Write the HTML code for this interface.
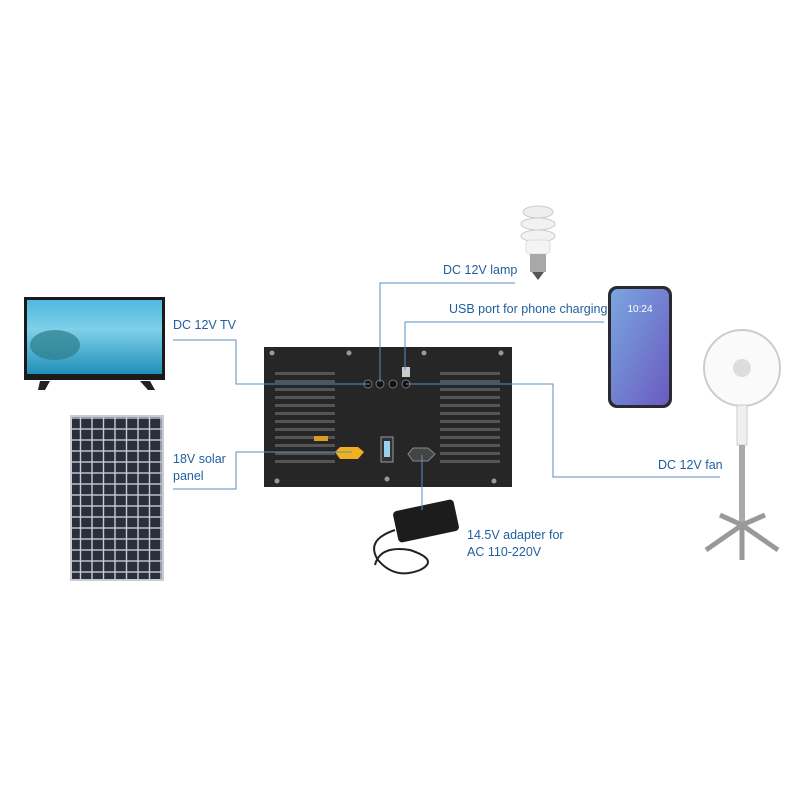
<!DOCTYPE html>
<html><head><style>
body{margin:0;width:800px;height:800px;background:#fff;overflow:hidden;position:relative;font-family:"Liberation Sans",sans-serif}
.t{position:absolute;color:#1f5f9e;font-size:12.5px;line-height:17px;white-space:nowrap}
</style></head><body>
<svg width="800" height="800" style="position:absolute;left:0;top:0">
<defs>
<linearGradient id="sea" x1="0" y1="0" x2="0" y2="1"><stop offset="0" stop-color="#4fb8e0"/><stop offset="0.4" stop-color="#7fd0e8"/><stop offset="1" stop-color="#1f8fb8"/></linearGradient>
<linearGradient id="ph" x1="0" y1="0" x2="1" y2="1"><stop offset="0" stop-color="#7aa6e0"/><stop offset="1" stop-color="#6a5bc0"/></linearGradient>
<pattern id="cells" width="11.5" height="11" patternUnits="userSpaceOnUse"><rect width="11.5" height="11" fill="#c8ccd4"/><rect x="0.7" y="0.7" width="10.1" height="9.6" fill="#2a2f3c"/></pattern>
</defs>
<!-- TV -->
<rect x="24" y="297" width="141" height="83" fill="#1a1a1a"/>
<rect x="27" y="300" width="135" height="74" fill="url(#sea)"/>
<ellipse cx="55" cy="345" rx="25" ry="15" fill="#2c7d8a" opacity="0.7"/>
<path d="M40 381 L50 381 L45 390 L38 390Z M140 381 L150 381 L155 390 L148 390Z" fill="#222"/>
<!-- Solar panel -->
<rect x="70" y="415" width="94" height="166" fill="#c8ccd4"/>
<rect x="72" y="417" width="90" height="162" fill="url(#cells)"/>
<!-- Lamp -->
<ellipse cx="538" cy="212" rx="15" ry="6" fill="#eee" stroke="#ccc"/>
<ellipse cx="538" cy="224" rx="17" ry="6" fill="#f2f2f2" stroke="#ccc"/>
<ellipse cx="538" cy="236" rx="17" ry="6" fill="#f2f2f2" stroke="#ccc"/>
<rect x="526" y="240" width="24" height="14" rx="4" fill="#f4f4f4" stroke="#ddd"/>
<rect x="530" y="254" width="16" height="18" fill="#a8a8a8"/>
<path d="M532 272 L544 272 L538 280Z" fill="#555"/>
<!-- Phone -->
<rect x="608" y="286" width="64" height="122" rx="9" fill="#2a2a30"/>
<rect x="611" y="289" width="58" height="116" rx="7" fill="url(#ph)"/>
<text x="640" y="312" font-size="10" fill="#fff" text-anchor="middle" font-family="Liberation Sans">10:24</text>
<!-- Fan -->
<circle cx="742" cy="368" r="38" fill="#fafafa" stroke="#ccc" stroke-width="2"/>
<circle cx="742" cy="368" r="9" fill="#ddd"/>
<rect x="737" y="405" width="10" height="40" fill="#f0f0f0" stroke="#ccc"/>
<rect x="739" y="445" width="6" height="80" fill="#aaa"/>
<path d="M706 550 L742 525 L778 550 M742 525 L742 560 M720 515 L742 525 L765 515" stroke="#999" stroke-width="5" fill="none"/>
<!-- Adapter -->
<rect x="395" y="505" width="62" height="32" rx="4" fill="#1c1c1c" transform="rotate(-12 426 521)"/>
<path d="M395 530 Q365 540 378 560 Q395 580 420 570 Q440 560 410 550 Q380 545 375 565" stroke="#222" stroke-width="2" fill="none"/>
<!-- Controller panel -->
<rect x="264" y="347" width="248" height="140" fill="#262626"/>
<g fill="#555">
<rect x="275" y="372" width="60" height="3"/><rect x="275" y="380" width="60" height="3"/><rect x="275" y="388" width="60" height="3"/><rect x="275" y="396" width="60" height="3"/><rect x="275" y="404" width="60" height="3"/><rect x="275" y="412" width="60" height="3"/><rect x="275" y="420" width="60" height="3"/><rect x="275" y="428" width="60" height="3"/><rect x="275" y="436" width="60" height="3"/><rect x="275" y="444" width="60" height="3"/><rect x="275" y="452" width="60" height="3"/><rect x="275" y="460" width="60" height="3"/>
<rect x="440" y="372" width="60" height="3"/><rect x="440" y="380" width="60" height="3"/><rect x="440" y="388" width="60" height="3"/><rect x="440" y="396" width="60" height="3"/><rect x="440" y="404" width="60" height="3"/><rect x="440" y="412" width="60" height="3"/><rect x="440" y="420" width="60" height="3"/><rect x="440" y="428" width="60" height="3"/><rect x="440" y="436" width="60" height="3"/><rect x="440" y="444" width="60" height="3"/><rect x="440" y="452" width="60" height="3"/><rect x="440" y="460" width="60" height="3"/>
</g>
<g fill="#999"><circle cx="272" cy="353" r="2.5"/><circle cx="349" cy="353" r="2.5"/><circle cx="424" cy="353" r="2.5"/><circle cx="501" cy="353" r="2.5"/><circle cx="277" cy="481" r="2.5"/><circle cx="387" cy="479" r="2.5"/><circle cx="494" cy="481" r="2.5"/></g>
<g fill="#111" stroke="#777"><circle cx="368" cy="384" r="4"/><circle cx="380" cy="384" r="4"/><circle cx="393" cy="384" r="4"/><circle cx="406" cy="384" r="4"/></g>
<rect x="402" y="367" width="8" height="10" fill="#ccc"/>
<rect x="314" y="436" width="14" height="5" fill="#d8a020"/>
<path d="M340 447 L358 447 L364 452 L358 459 L340 459 L335 452Z" fill="#f0b020"/>
<path d="M413 448 L428 448 L435 454 L428 461 L413 461 L408 454Z" fill="#444" stroke="#888"/>
<rect x="381" y="437" width="12" height="25" fill="#333" stroke="#999"/>
<rect x="384" y="441" width="6" height="16" fill="#9cd0f0"/>
<!-- lines -->
<g stroke="#5b8fc2" stroke-width="1" fill="none">
<polyline points="173,340 236,340 236,384 370,384"/>
<polyline points="515,283 380,283 380,382"/>
<polyline points="604,322 405,322 405,370"/>
<polyline points="406,384 553,384 553,477 720,477"/>
<polyline points="173,489 236,489 236,452 352,452"/>
<polyline points="422,455 422,510"/>
</g>
</svg>
<div class="t" style="left:173px;top:317px">DC 12V TV</div>
<div class="t" style="left:443px;top:262px">DC 12V lamp</div>
<div class="t" style="left:449px;top:301px">USB port for phone charging</div>
<div class="t" style="left:658px;top:457px">DC 12V fan</div>
<div class="t" style="left:173px;top:451px">18V solar<br>panel</div>
<div class="t" style="left:467px;top:527px">14.5V adapter for<br>AC 110-220V</div>
</body></html>
